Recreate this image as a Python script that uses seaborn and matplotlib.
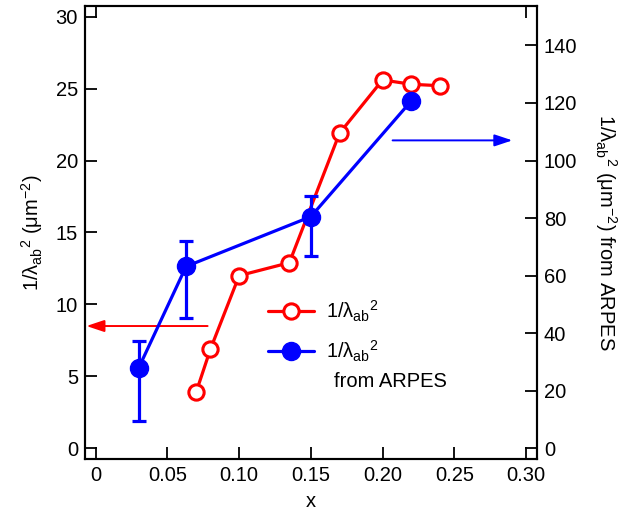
import matplotlib
matplotlib.use("Agg")
import matplotlib.pyplot as plt
from matplotlib.lines import Line2D
import seaborn as sns
import pandas as pd

# Penetration-depth data: 1/lambda_ab^2 (um^-2) vs doping x
x_lambda = [0.07, 0.08, 0.10, 0.135, 0.17, 0.20, 0.22, 0.24]
inv_lambda2 = [3.9, 6.9, 12.0, 12.9, 21.9, 25.6, 25.3, 25.2]

# Values derived from ARPES (right axis), with asymmetric uncertainties
x_arpes = [0.03, 0.063, 0.15, 0.22]
inv_lambda2_arpes = [28.0, 63.2, 80.5, 120.7]
err_up = [9.3, 9.0, 7.2, 0.0]
err_down = [18.6, 17.8, 13.7, 0.0]

x_ticks = [0, 0.05, 0.10, 0.15, 0.20, 0.25, 0.30]
x_ticklabels = ["0", "0.05", "0.10", "0.15", "0.20", "0.25", "0.30"]
left_ticks = [0, 5, 10, 15, 20, 25, 30]
right_ticks = [0, 20, 40, 60, 80, 100, 120, 140]

sns.set_theme(style="ticks")
plt.rcParams["font.family"] = ["Liberation Sans", "DejaVu Sans"]
plt.rcParams["mathtext.fontset"] = "custom"
plt.rcParams["mathtext.rm"] = "Liberation Sans"
plt.rcParams["mathtext.it"] = "Liberation Sans"
plt.rcParams["mathtext.bf"] = "Liberation Sans"
for key in ("text.color", "axes.labelcolor", "xtick.color", "ytick.color",
            "axes.edgecolor"):
    plt.rcParams[key] = "black"

RED = "#ff0000"
BLUE = "#0000ff"
FS = 14.5

fig = plt.figure(figsize=(6.24, 5.16), dpi=100)
ax = fig.add_axes([0.1362, 0.1105, 0.7244, 0.8779])
ax2 = ax.twinx()

df_l = pd.DataFrame({"x": x_lambda, "y": inv_lambda2})
df_a = pd.DataFrame({"x": x_arpes, "y": inv_lambda2_arpes})

sns.lineplot(data=df_l, x="x", y="y", ax=ax, color=RED, lw=2.3,
             marker="o", markersize=11, markerfacecolor="white",
             markeredgecolor=RED, markeredgewidth=2.2, sort=False)

ax2.errorbar(x_arpes[:3], inv_lambda2_arpes[:3],
             yerr=[err_down[:3], err_up[:3]], fmt="none",
             ecolor=BLUE, elinewidth=2.3, capsize=5, capthick=2.3)
sns.lineplot(data=df_a, x="x", y="y", ax=ax2, color=BLUE, lw=2.3,
             marker="o", markersize=13, markerfacecolor=BLUE,
             markeredgecolor=BLUE, markeredgewidth=1, sort=False)

ax.set_xlim(-0.0075, 0.3077)
ax.set_ylim(-0.74, 30.74)
ax2.set_ylim(-3.7, 153.7)

ax.set_xticks(x_ticks)
ax.set_xticklabels(x_ticklabels)
ax.set_yticks(left_ticks)
ax2.set_yticks(right_ticks)

for a in (ax, ax2):
    for s in a.spines.values():
        s.set_linewidth(1.5)
        s.set_color("black")
    a.tick_params(direction="in", length=8.5, width=1.3, labelsize=FS,
                  colors="black", pad=5)
ax.tick_params(axis="y", right=False)
ax2.tick_params(axis="y", left=False)

# mirrored ticks on the top edge only at the ends of the x range
top = ax.secondary_xaxis("top")
top.set_xticks([0, 0.30])
top.set_xticklabels([])
top.tick_params(direction="in", length=8.5, width=1.3, colors="black")
top.spines["top"].set_visible(False)

ax.set_xlabel("x", fontsize=FS, labelpad=5)
ax.set_ylabel(r"$1/\lambda_{ab}{}^{2}$ ($\mu$m$^{-2}$)", fontsize=FS, labelpad=8)
ax2.set_ylabel(r"$1/\lambda_{ab}{}^{2}$ ($\mu$m$^{-2}$) from ARPES",
               fontsize=FS, rotation=-90, labelpad=30)

# arrows pointing each series to its axis
ax.annotate("", xy=(-0.0065, 8.5), xytext=(0.078, 8.5),
            arrowprops=dict(arrowstyle="-|>,head_length=0.9,head_width=0.3",
                            color=RED, lw=1.4, shrinkA=0, shrinkB=0))
ax.annotate("", xy=(0.2905, 21.4), xytext=(0.207, 21.4),
            arrowprops=dict(arrowstyle="-|>,head_length=0.9,head_width=0.3",
                            color=BLUE, lw=1.4, shrinkA=0, shrinkB=0))

handles = [
    Line2D([], [], color=RED, lw=2.3, marker="o", markersize=11,
           markerfacecolor="white", markeredgecolor=RED, markeredgewidth=2.2),
    Line2D([], [], color=BLUE, lw=2.3, marker="o", markersize=13,
           markerfacecolor=BLUE, markeredgecolor=BLUE),
]
labels = [r"$1/\lambda_{ab}{}^{2}$", r"$1/\lambda_{ab}{}^{2}$"]
leg = ax2.legend(handles, labels, loc="upper left",
                 bbox_to_anchor=(0.387, 0.372), frameon=False, fontsize=FS,
                 handlelength=2.3, handletextpad=0.6, labelspacing=0.75,
                 borderaxespad=0)
# second line of the ARPES legend entry
ax2.text(0.55, 0.172, "from ARPES", transform=ax.transAxes,
         fontsize=FS, ha="left", va="center")

fig.savefig("out.png", dpi=100)
